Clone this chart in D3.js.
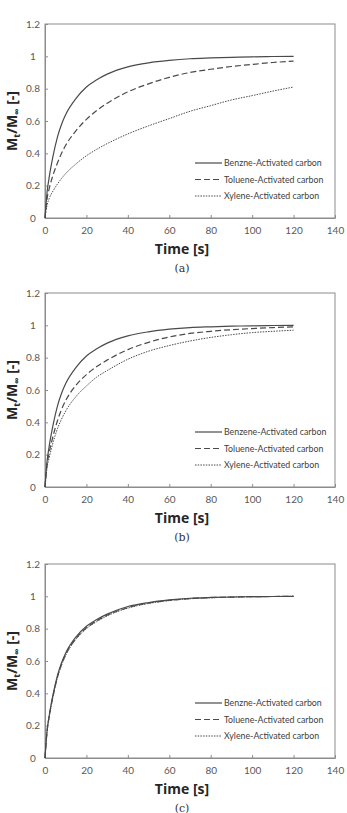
<!DOCTYPE html>
<html>
<head>
<meta charset="utf-8">
<script src="https://cdn.jsdelivr.net/npm/d3@7"></script>
<style>
  html, body { margin: 0; padding: 0; background: #fff; }
  svg { display: block; }
</style>
</head>
<body>
<div id="container"></div>
<script>
// time points (s)
var times = [0, 1, 2, 4, 6, 8, 10, 15, 20, 25, 30, 40, 50, 60, 70, 80, 90, 100, 110, 120];

// panel (a)
var benzeneA = [0, 0.16, 0.25, 0.39, 0.5, 0.58, 0.64, 0.74, 0.81, 0.855, 0.89, 0.935, 0.96, 0.975, 0.985, 0.99, 0.994, 0.997, 0.999, 1.0];
var tolueneA = [0, 0.12, 0.18, 0.27, 0.34, 0.4, 0.45, 0.54, 0.61, 0.665, 0.71, 0.78, 0.83, 0.87, 0.9, 0.92, 0.937, 0.95, 0.962, 0.97];
var xyleneA  = [0, 0.08, 0.12, 0.17, 0.21, 0.245, 0.275, 0.335, 0.385, 0.425, 0.46, 0.52, 0.57, 0.615, 0.66, 0.695, 0.73, 0.757, 0.785, 0.81];

// panel (b)
var benzeneB = [0, 0.16, 0.25, 0.39, 0.5, 0.58, 0.64, 0.74, 0.81, 0.855, 0.89, 0.935, 0.96, 0.976, 0.986, 0.991, 0.995, 0.997, 0.999, 1.0];
var tolueneB = [0, 0.14, 0.21, 0.32, 0.41, 0.48, 0.535, 0.63, 0.695, 0.745, 0.785, 0.85, 0.895, 0.928, 0.95, 0.963, 0.973, 0.98, 0.986, 0.99];
var xyleneB  = [0, 0.12, 0.18, 0.28, 0.36, 0.42, 0.47, 0.56, 0.625, 0.68, 0.72, 0.79, 0.84, 0.875, 0.903, 0.925, 0.942, 0.955, 0.963, 0.97];

// panel (c)
var benzeneC = [0, 0.17, 0.26, 0.4, 0.51, 0.59, 0.65, 0.75, 0.815, 0.857, 0.89, 0.937, 0.962, 0.978, 0.988, 0.993, 0.996, 0.998, 0.999, 1.0];
var tolueneC = [0, 0.165, 0.255, 0.39, 0.5, 0.58, 0.64, 0.74, 0.805, 0.849, 0.883, 0.93, 0.958, 0.975, 0.986, 0.992, 0.995, 0.998, 0.999, 1.0];
var xyleneC  = [0, 0.16, 0.25, 0.385, 0.495, 0.575, 0.635, 0.735, 0.8, 0.844, 0.879, 0.927, 0.956, 0.974, 0.985, 0.991, 0.995, 0.997, 0.999, 1.0];

var xTicks = [0, 20, 40, 60, 80, 100, 120, 140];
var yTicks = [0, 0.2, 0.4, 0.6, 0.8, 1, 1.2];

var panels = [
  { label: "(a)", top: 0,   names: ["Benzne-Activated carbon", "Toluene-Activated carbon", "Xylene-Activated carbon"], series: [benzeneA, tolueneA, xyleneA] },
  { label: "(b)", top: 269, names: ["Benzene-Activated carbon", "Toluene-Activated carbon", "Xylene-Activated carbon"], series: [benzeneB, tolueneB, xyleneB] },
  { label: "(c)", top: 540, names: ["Benzne-Activated carbon", "Toluene-Activated carbon", "Xylene-Activated carbon"], series: [benzeneC, tolueneC, xyleneC] }
];

var dashes = [null, "6,3", "1.5,1.2"];
var widths = [1.2, 1.2, 1];

var svg = d3.select("#container").append("svg")
  .attr("width", 347).attr("height", 813)
  .attr("viewBox", "0 0 347 813");
var margin = { top: 24, left: 45 };
var innerWidth = 290, innerHeight = 194;

var xScale = d3.scaleLinear().domain([0, 140]).range([0, innerWidth]);
var yScale = d3.scaleLinear().domain([0, 1.2]).range([innerHeight, 0]);

var line = d3.line()
  .x(function(d) { return xScale(d[0]); })
  .y(function(d) { return yScale(d[1]); })
  .curve(d3.curveMonotoneX);

panels.forEach(function(p) {
  var g = svg.append("g").attr("transform", `translate(${margin.left}, ${p.top + margin.top})`);

  //frame
  g.append("rect")
    .attr("width", innerWidth).attr("height", innerHeight)
    .attr("fill", "none").attr("stroke", "#8c8c8c").attr("stroke-width", 1);

  //axes with inward ticks
  var xAxis = g.append("g")
    .attr("transform", `translate(0,${innerHeight})`)
    .call(d3.axisBottom(xScale).tickValues(xTicks).tickSizeInner(-3).tickSizeOuter(0).tickPadding(9));
  var yAxis = g.append("g")
    .call(d3.axisLeft(yScale).tickValues(yTicks).tickSizeInner(-3).tickSizeOuter(0).tickPadding(9)
      .tickFormat(d3.format("~g")));

  [xAxis, yAxis].forEach(function(ax) {
    ax.attr("font-family", "Lato, sans-serif").attr("font-size", 10);
    ax.select(".domain").attr("stroke", "#8c8c8c");
    ax.selectAll(".tick line").attr("stroke", "#8c8c8c");
    ax.selectAll("text").attr("fill", "#595959");
  });
  yAxis.selectAll("text").attr("text-anchor", "middle").attr("x", -12);

  //curves
  p.series.forEach(function(vals, i) {
    var pts = times.map(function(t, k) { return [t, vals[k]]; });
    g.append("path")
      .datum(pts)
      .attr("fill", "none")
      .attr("stroke", "#4a4a4a")
      .attr("stroke-width", widths[i])
      .attr("stroke-dasharray", dashes[i])
      .attr("d", line);
  });

  //legend
  var legend = g.append("g").attr("transform", "translate(150, 139)");
  p.names.forEach(function(name, i) {
    var row = legend.append("g").attr("transform", `translate(0, ${i * 16.5})`);
    row.append("line")
      .attr("x1", 0).attr("x2", 27).attr("y1", 0).attr("y2", 0)
      .attr("stroke", "#4a4a4a").attr("stroke-width", widths[i])
      .attr("stroke-dasharray", dashes[i]);
    row.append("text")
      .attr("x", 29).attr("y", 3)
      .attr("fill", "#404040")
      .attr("font-family", "Lato, sans-serif")
      .attr("font-size", 8.8)
      .text(name);
  });

  //Axis-labels
  g.append("text")
    .attr("x", 137).attr("y", innerHeight + 36)
    .attr("text-anchor", "middle")
    .attr("fill", "#262626")
    .attr("font-family", "'Open Sans', sans-serif")
    .attr("font-size", 14).attr("font-weight", "bold")
    .text("Time [s]");

  var yTitle = g.append("text")
    .attr("transform", `translate(-28, ${innerHeight / 2}) rotate(-90)`)
    .attr("text-anchor", "middle")
    .attr("fill", "#262626")
    .attr("font-family", "'Open Sans', sans-serif")
    .attr("font-size", 14).attr("font-weight", "bold");
  yTitle.append("tspan").text("M");
  yTitle.append("tspan").attr("dy", 3).attr("font-size", 9).text("t");
  yTitle.append("tspan").attr("dy", -3).text("/M");
  yTitle.append("tspan").attr("dy", 3).attr("font-size", 9).text("∞");
  yTitle.append("tspan").attr("dy", -3).text(" [-]");

  //panel label
  svg.append("text")
    .attr("x", 182).attr("y", p.top + 272)
    .attr("text-anchor", "middle")
    .attr("fill", "#333")
    .attr("font-family", "'DejaVu Serif', 'Liberation Serif', serif")
    .attr("font-size", 11)
    .text(p.label);
});
</script>
</body>
</html>
